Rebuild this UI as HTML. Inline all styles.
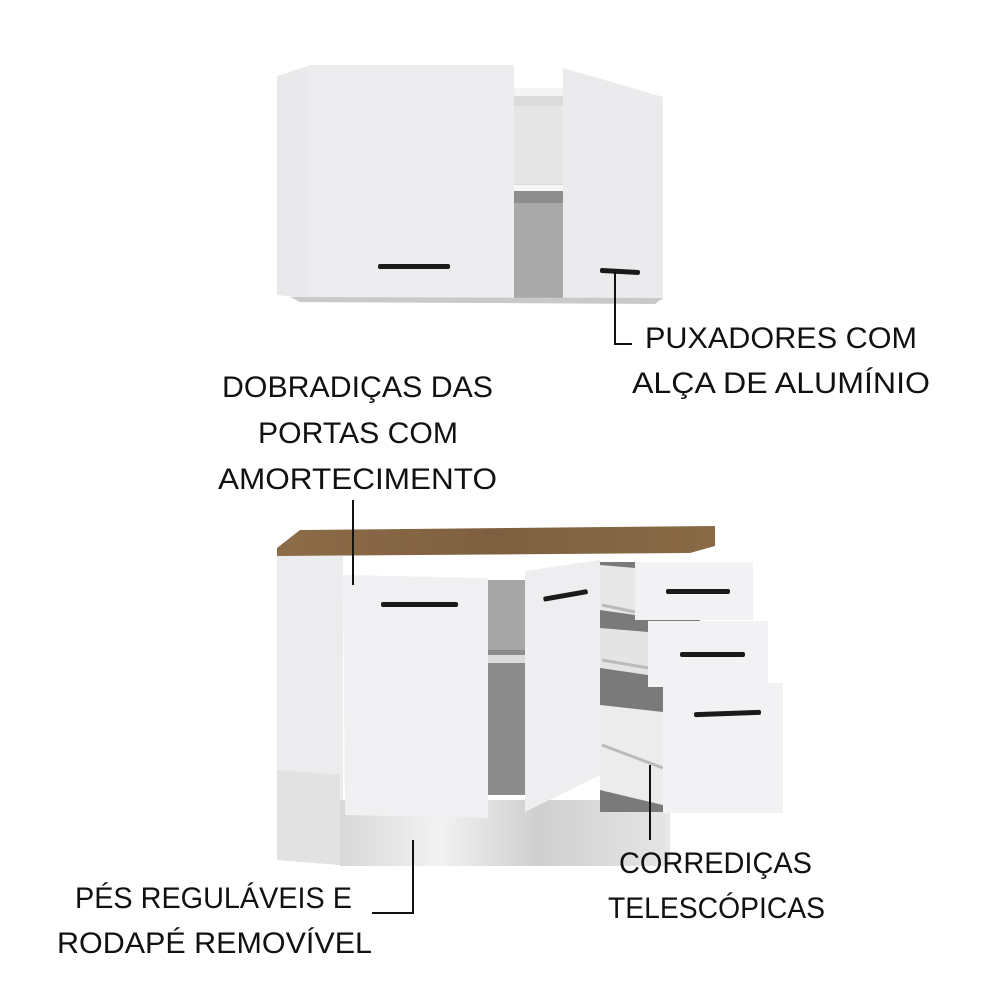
<!DOCTYPE html>
<html><head><meta charset="utf-8"><style>
html,body{margin:0;padding:0;background:#fff}
svg{display:block}
text{font-family:"Liberation Sans",sans-serif;font-size:30px;fill:#111}
</style></head><body>
<svg width="1000" height="1000" viewBox="0 0 1000 1000" xmlns="http://www.w3.org/2000/svg">
<defs>
<linearGradient id="wood" x1="0" y1="0" x2="1" y2="0">
<stop offset="0" stop-color="#8d6c48"/><stop offset="0.5" stop-color="#7e5f3f"/><stop offset="1" stop-color="#8a6a46"/></linearGradient>
<linearGradient id="plinth" x1="0" y1="0" x2="1" y2="0">
<stop offset="0" stop-color="#d8d8d8"/><stop offset="0.3" stop-color="#f2f2f2"/><stop offset="0.6" stop-color="#cfcfcf"/><stop offset="1" stop-color="#e6e6e6"/></linearGradient>
</defs>
<!-- TOP CABINET -->
<polygon points="277,76 308,66 308,298 277,295" fill="#e9e9eb"/>
<rect x="308" y="65" width="206" height="233" fill="#ededef"/>
<rect x="514" y="88" width="50" height="210" fill="#dcdcdc"/>
<rect x="514" y="88" width="50" height="8" fill="#f4f4f4"/>
<rect x="514" y="106" width="50" height="78" fill="#e6e6e6"/>
<rect x="514" y="185" width="50" height="6" fill="#f6f6f6"/>
<rect x="514" y="191" width="50" height="12" fill="#8e8e8e"/>
<rect x="514" y="203" width="50" height="95" fill="#a9a9a9"/>
<polygon points="563,68 663,97 663,300 563,298" fill="#ebebed"/>
<polygon points="290,297 663,298 655,304 300,302" fill="#c9c9c9"/>
<rect x="378" y="264" width="72" height="5" rx="2" fill="#1a1a1a"/>
<rect x="600" y="269" width="40" height="5" rx="2" fill="#1a1a1a" transform="rotate(3 620 271)"/>
<!-- BOTTOM CABINET -->
<polygon points="277,548 300,530 715,526 715,546 690,553 277,556" fill="url(#wood)"/>
<polygon points="277,556 343,556 343,820 340,865 277,860" fill="#ececee"/>
<polygon points="277,770 340,775 340,865 277,860" fill="#e2e2e2"/>
<rect x="340" y="800" width="330" height="66" fill="url(#plinth)"/>
<rect x="488" y="580" width="40" height="215" fill="#8c8c8c"/>
<rect x="488" y="580" width="40" height="70" fill="#a6a6a6"/>
<rect x="488" y="655" width="40" height="8" fill="#dcdcdc"/>
<polygon points="343,575 488,578 488,818 345,815" fill="#f0f0f2"/>
<polygon points="525,571 600,560 600,775 525,812" fill="#eeeef0"/>
<rect x="600" y="562" width="100" height="250" fill="#7a7a7a"/>
<polygon points="600,565 635,568 635,615 600,610" fill="#e8e8e8"/>
<polygon points="600,628 648,632 648,675 600,668" fill="#e4e4e4"/>
<polygon points="600,705 663,712 663,805 600,790" fill="#ececec"/>
<g stroke="#bbb" stroke-width="3"><line x1="602" y1="605" x2="635" y2="612"/><line x1="602" y1="660" x2="648" y2="668"/><line x1="602" y1="745" x2="663" y2="768"/></g>
<rect x="635" y="562" width="118" height="58" fill="#f2f2f4"/>
<rect x="648" y="621" width="120" height="66" fill="#f2f2f4"/>
<rect x="663" y="683" width="120" height="130" fill="#f2f2f4"/>
<rect x="381" y="602" width="77" height="5" rx="2" fill="#1a1a1a"/>
<rect x="543" y="593" width="45" height="5" rx="2" fill="#1a1a1a" transform="rotate(-10 565 595)"/>
<rect x="666" y="589" width="64" height="5" rx="2" fill="#1a1a1a"/>
<rect x="680" y="652" width="65" height="5" rx="2" fill="#1a1a1a"/>
<rect x="694" y="711" width="67" height="5" rx="2" fill="#1a1a1a" transform="rotate(-2 727 713)"/>
<!-- CALLOUT LINES -->
<g stroke="#111" stroke-width="2" fill="none">
<polyline points="615,272 615,344 632,344"/>
<line x1="353" y1="500" x2="353" y2="585"/>
<polyline points="413,840 413,913 372,913"/>
<line x1="650" y1="765" x2="650" y2="840"/>
</g>
<!-- LABELS -->
<text x="645" y="348" textLength="272" lengthAdjust="spacingAndGlyphs">PUXADORES COM</text>
<text x="632" y="393" textLength="298" lengthAdjust="spacingAndGlyphs">ALÇA DE ALUMÍNIO</text>
<text x="222" y="397" textLength="271" lengthAdjust="spacingAndGlyphs">DOBRADIÇAS DAS</text>
<text x="258" y="443" textLength="200" lengthAdjust="spacingAndGlyphs">PORTAS COM</text>
<text x="218" y="489" textLength="279" lengthAdjust="spacingAndGlyphs">AMORTECIMENTO</text>
<text x="619" y="873" textLength="193" lengthAdjust="spacingAndGlyphs">CORREDIÇAS</text>
<text x="608" y="918" textLength="217" lengthAdjust="spacingAndGlyphs">TELESCÓPICAS</text>
<text x="75" y="908" textLength="277" lengthAdjust="spacingAndGlyphs">PÉS REGULÁVEIS E</text>
<text x="57" y="953" textLength="315" lengthAdjust="spacingAndGlyphs">RODAPÉ REMOVÍVEL</text>
</svg>
</body></html>
